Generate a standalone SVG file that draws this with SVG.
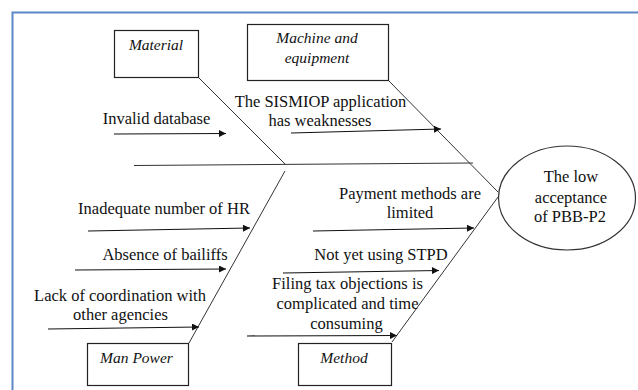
<svg xmlns="http://www.w3.org/2000/svg" width="638" height="390" viewBox="0 0 638 390">
<style>
text{font-family:"Liberation Serif","Times New Roman",serif;font-size:16.5px;fill:#111;text-anchor:middle}
.lbl{font-style:italic;font-size:15.5px}
.box{fill:#fff;stroke:#222;stroke-width:1.2}
.bone{stroke:#333;stroke-width:1;fill:none}
.arr{stroke:#111;stroke-width:1.2;fill:none;marker-end:url(#ah)}
</style>
<defs>
<marker id="ah" viewBox="0 0 10 10" refX="10" refY="5" markerWidth="9" markerHeight="7" markerUnits="userSpaceOnUse" orient="auto">
<path d="M0,0 L10,5 L0,10 z" fill="#111"/>
</marker>
</defs>
<rect width="638" height="390" fill="#fff"/>
<path d="M12.5,390 V12.5 H638" fill="none" stroke="#5b87c4" stroke-width="2"/>
<g id="connectors">
<line class="bone" x1="134" y1="165.5" x2="473" y2="163"/>
<line class="bone" x1="198" y1="77" x2="285" y2="164"/>
<line class="bone" x1="388" y1="80" x2="498" y2="192"/>
<line class="bone" x1="285" y1="171" x2="189" y2="343"/>
<line class="bone" x1="498" y1="197" x2="392" y2="342"/>
<line class="arr" x1="114" y1="134" x2="226" y2="133.5"/>
<line class="arr" x1="291" y1="133" x2="441" y2="129"/>
<line class="arr" x1="313" y1="231" x2="474" y2="228"/>
<line class="arr" x1="88" y1="231" x2="250" y2="228"/>
<line class="arr" x1="75" y1="270" x2="226" y2="269"/>
<line class="arr" x1="283" y1="273" x2="439" y2="270.5"/>
<line class="arr" x1="48" y1="329" x2="199" y2="327"/>
<line class="arr" x1="247" y1="336" x2="397" y2="335.5"/>
</g>
<g id="material"><rect class="box" x="114.5" y="30.5" width="84" height="47"/><text class="lbl" x="156" y="50">Material</text></g>
<g id="machine"><rect class="box" x="247.5" y="24.5" width="141" height="56"/><text class="lbl" x="317" y="43">Machine and</text><text class="lbl" x="317" y="63">equipment</text></g>
<g id="manpower"><rect class="box" x="87.5" y="343.5" width="101" height="42"/><text class="lbl" x="136.5" y="363">Man Power</text></g>
<g id="method"><rect class="box" x="298.5" y="343.5" width="93" height="42"/><text class="lbl" x="344" y="363">Method</text></g>
<g id="effect"><ellipse cx="567" cy="198" rx="68.5" ry="52" fill="#fff" stroke="#333" stroke-width="1.2"/><text x="571" y="182">The low</text><text x="571" y="203">acceptance</text><text x="570" y="222">of PBB-P2</text></g>
<g id="causes">
<text x="156.5" y="124">Invalid database</text>
<text x="320.5" y="107">The SISMIOP application</text>
<text x="320" y="126">has weaknesses</text>
<text x="410" y="199">Payment methods are</text>
<text x="410" y="218">limited</text>
<text x="164" y="214">Inadequate number of HR</text>
<text x="165" y="260">Absence of bailiffs</text>
<text x="120" y="301">Lack of coordination with</text>
<text x="120.5" y="320">other agencies</text>
<text x="381" y="260">Not yet using STPD</text>
<text x="347.5" y="289">Filing tax objections is</text>
<text x="347.5" y="309">complicated and time</text>
<text x="346.5" y="329">consuming</text>
</g>
</svg>
